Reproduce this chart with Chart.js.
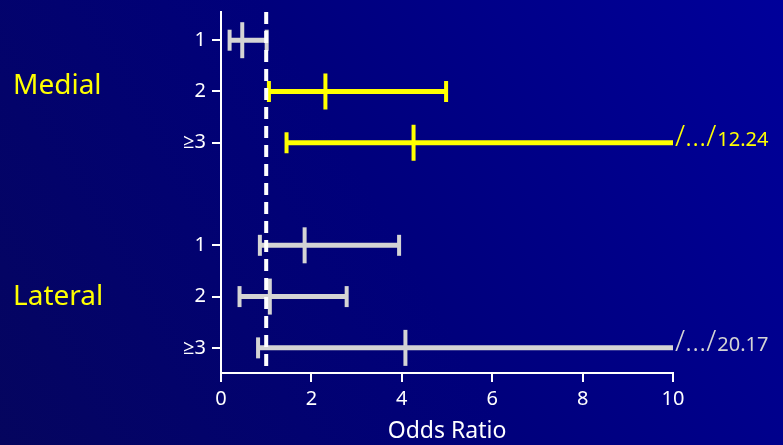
<!DOCTYPE html>
<html>
<head>
<meta charset="utf-8">
<script src="https://cdn.jsdelivr.net/npm/chart.js@4"></script>
<style>
  html, body { margin: 0; padding: 0; background: #000070; }
  canvas { display: block; }
</style>
</head>
<body>
<canvas id="orChart" width="783" height="445"></canvas>
<script>
// rows top to bottom: Medial 1, 2, >=3, (gap), Lateral 1, 2, >=3
const rowLabels = ['1', '2', '≥3', '', '1', '2', '≥3'];
const groupLabels = ['Medial', 'Lateral'];
const groupRows = [1, 5];
const lower    = [0.19, 1.06, 1.45, null, 0.86, 0.41, 0.82];
const estimate = [0.47, 2.31, 4.26, null, 1.85, 1.08, 4.08];
const upper    = [1.01, 4.98, 12.24, null, 3.94, 2.78, 20.17];
const xTicks = [0, 2, 4, 6, 8, 10];
const xMax = 10;
const refLine = 1;

const yMin = -0.55, yMax = 6.49;
const FONT = '"Noto Sans", "Open Sans", sans-serif';
const YELLOW = '#ffff00', GREY = '#d4d4d4', WHITE = '#ffffff';

// significant rows (CI entirely above 1) are yellow
const colorOf = i => lower[i] > refLine ? YELLOW : GREY;
const rows = rowLabels.map((_, i) => i).filter(i => estimate[i] !== null);

const datasets = [];

// dashed reference line at OR = 1 (first = drawn on top)
datasets.push({
  data: [{ x: refLine, y: yMin }, { x: refLine, y: yMax }],
  showLine: true,
  borderColor: WHITE,
  borderWidth: 4,
  borderDash: [12, 7],
  pointRadius: 0
});

// point estimates: tall vertical ticks
datasets.push({
  data: rows.map(i => ({ x: estimate[i], y: i })),
  pointStyle: 'line',
  pointRotation: 90,
  pointRadius: 18,
  pointBorderWidth: 4,
  pointBorderColor: rows.map(colorOf),
  pointBackgroundColor: rows.map(colorOf)
});

// CI end caps (no cap where the interval runs off the axis)
const capRows = rows.flatMap(i => {
  const pts = [{ x: lower[i], y: i }];
  if (upper[i] <= xMax) pts.push({ x: upper[i], y: i });
  return pts;
});
datasets.push({
  data: capRows,
  pointStyle: 'line',
  pointRotation: 90,
  pointRadius: 10.5,
  pointBorderWidth: 4,
  pointBorderColor: capRows.map(p => colorOf(p.y)),
  pointBackgroundColor: capRows.map(p => colorOf(p.y))
});

// CI horizontal lines
rows.forEach(i => {
  datasets.push({
    data: [{ x: lower[i], y: i }, { x: Math.min(upper[i], xMax), y: i }],
    showLine: true,
    borderColor: colorOf(i),
    borderWidth: 5,
    pointRadius: 0
  });
});

const background = {
  id: 'background',
  beforeDraw(chart) {
    const { ctx, width, height } = chart;
    const g = ctx.createLinearGradient(0, height, width, 0);
    g.addColorStop(0, '#05055e');
    g.addColorStop(0.5, '#00007c');
    g.addColorStop(1, '#00009a');
    ctx.save();
    ctx.fillStyle = g;
    ctx.fillRect(0, 0, width, height);
    ctx.restore();
  }
};

const annotations = {
  id: 'annotations',
  afterDraw(chart) {
    const { ctx } = chart;
    const xs = chart.scales.x, ys = chart.scales.y;
    ctx.save();
    ctx.textAlign = 'left';

    // group names
    const groupOffsets = [-5, 0];
    ctx.font = '28px ' + FONT;
    ctx.fillStyle = YELLOW;
    ctx.textBaseline = 'middle';
    groupLabels.forEach((g, k) => {
      ctx.fillText(g, 13, ys.getPixelForValue(groupRows[k]) + groupOffsets[k]);
    });

    // broken axis marks with the real upper limit
    ctx.textBaseline = 'alphabetic';
    rows.filter(i => upper[i] > xMax).forEach(i => {
      const x = xs.getPixelForValue(xMax) + 2;
      const y = ys.getPixelForValue(i) + 3;
      ctx.fillStyle = colorOf(i);
      ctx.font = '300 29px ' + FONT;
      ctx.fillText('/…/', x, y);
      const w = ctx.measureText('/…/').width;
      ctx.font = '20px ' + FONT;
      ctx.fillText(upper[i].toFixed(2), x + w + 1, y);
    });
    ctx.restore();
  }
};

const axisGrid = { drawOnChartArea: false, drawTicks: true, tickLength: 9, color: WHITE, lineWidth: 2 };

new Chart(document.getElementById('orChart'), {
  type: 'scatter',
  data: { datasets },
  options: {
    responsive: false,
    animation: false,
    events: [],
    layout: { autoPadding: false, padding: { left: 0, right: 110, top: 12, bottom: 0 } },
    plugins: { legend: { display: false }, tooltip: { enabled: false } },
    scales: {
      x: {
        type: 'linear',
        min: 0,
        max: xMax,
        afterBuildTicks: s => { s.ticks = xTicks.map(v => ({ value: v })); },
        afterFit: s => { s.height = 72; s.paddingLeft = 0; s.paddingRight = 0; },
        ticks: { color: WHITE, font: { family: FONT, size: 20 }, padding: 5 },
        grid: axisGrid,
        border: { display: true, color: WHITE, width: 2 },
        title: {
          display: true,
          text: 'Odds Ratio',
          color: WHITE,
          font: { family: FONT, size: 23 },
          padding: { top: 0, bottom: 0 }
        }
      },
      y: {
        type: 'linear',
        reverse: true,
        min: yMin,
        max: yMax,
        afterBuildTicks: s => {
          s.ticks = rowLabels.map((l, i) => i).filter(i => rowLabels[i] !== '').map(v => ({ value: v }));
        },
        afterFit: s => { s.width = 221; s.paddingTop = 0; s.paddingBottom = 0; },
        ticks: {
          color: WHITE,
          font: { family: FONT, size: 20 },
          padding: 6,
          callback: v => rowLabels[v]
        },
        grid: axisGrid,
        border: { display: true, color: WHITE, width: 2 }
      }
    }
  },
  plugins: [background, annotations]
});
</script>
</body>
</html>
